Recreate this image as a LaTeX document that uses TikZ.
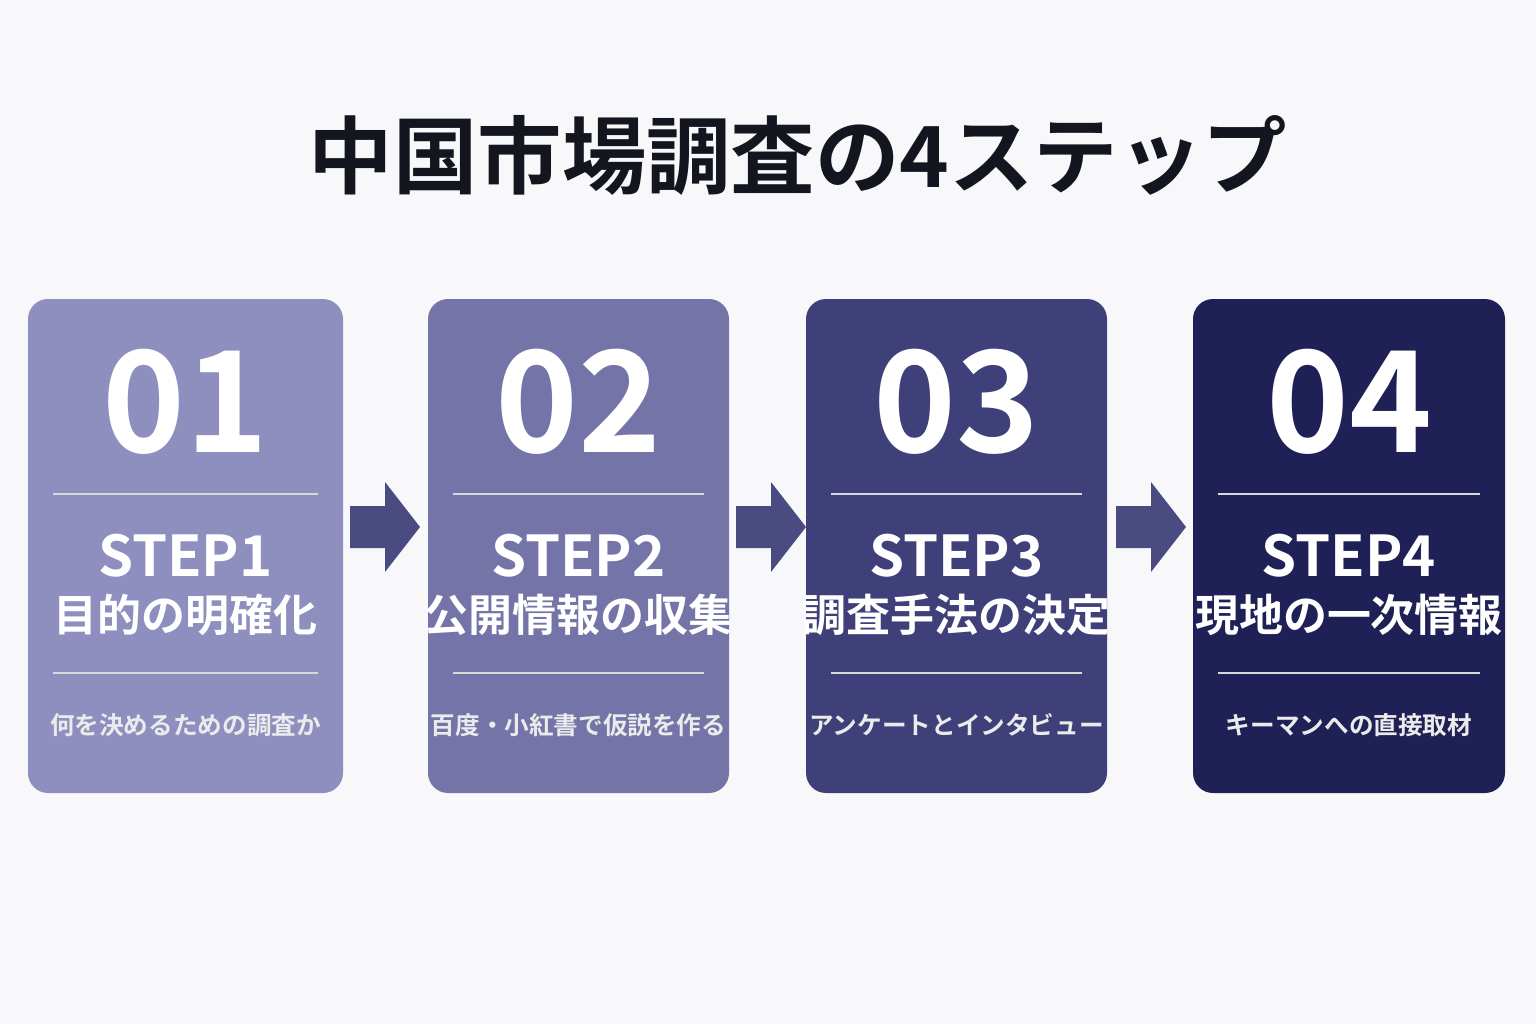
\documentclass[tikz,border=0pt]{standalone}
\usepackage{fontspec}
\setmainfont{Noto Sans CJK JP Bold}
\usetikzlibrary{positioning}
\definecolor{bgc}{HTML}{F8F8FA}
\definecolor{titlec}{HTML}{14161F}
\definecolor{stepa}{HTML}{8E8FBF}
\definecolor{stepb}{HTML}{7474A8}
\definecolor{stepc}{HTML}{3F4079}
\definecolor{stepd}{HTML}{1F2055}
\definecolor{arrowc}{HTML}{4A4B80}
\tikzset{
  card/.style={rounded corners=0.2cm},
  cardnum/.style={text=white,font=\fontsize{40}{40}\selectfont},
  cardstep/.style={text=white,font=\fontsize{16}{16}\selectfont},
  cardname/.style={text=white,font=\fontsize{12.5}{12.5}\selectfont},
  cardnote/.style={text=white!92!black,font=\fontsize{7}{7}\selectfont},
  cardrule/.style={white!85!black,line width=0.6pt},
}
\begin{document}
\begin{tikzpicture}[x=0.01cm,y=-0.01cm]
\fill[bgc] (0,0) rectangle (1536,1024);
\node[text=titlec,font=\fontsize{24}{24}\selectfont] (title) at (798,155) {中国市場調査の4ステップ};
% cards
\foreach \i/\xa/\xb/\col/\nm/\ttl/\sub in {
  1/28/343/stepa/01/目的の明確化/何を決めるための調査か,
  2/428/729/stepb/02/公開情報の収集/百度・小紅書で仮説を作る,
  3/806/1107/stepc/03/調査手法の決定/アンケートとインタビュー,
  4/1193/1505/stepd/04/現地の一次情報/キーマンへの直接取材}{
  \fill[\col,card] (\xa,299) rectangle (\xb,793);
  \pgfmathsetmacro{\xm}{(\xa+\xb)/2}
  \node[cardnum] (num\i) at (\xm,402) {\nm};
  \draw[cardrule] (\xa+25,494) -- (\xb-25,494);
  \node[cardstep] (step\i) at (\xm,556) {STEP\i};
  \node[cardname] (name\i) at (\xm,615) {\ttl};
  \draw[cardrule] (\xa+25,673) -- (\xb-25,673);
  \node[cardnote] (note\i) at (\xm,725) {\sub};
}
% arrows
\foreach \x in {350,736,1116}{
  \fill[arrowc] (\x,506) -- (\x+35,506) -- (\x+35,482) -- (\x+70,527) -- (\x+35,572) -- (\x+35,548) -- (\x,548) -- cycle;
}
\end{tikzpicture}
\end{document}
